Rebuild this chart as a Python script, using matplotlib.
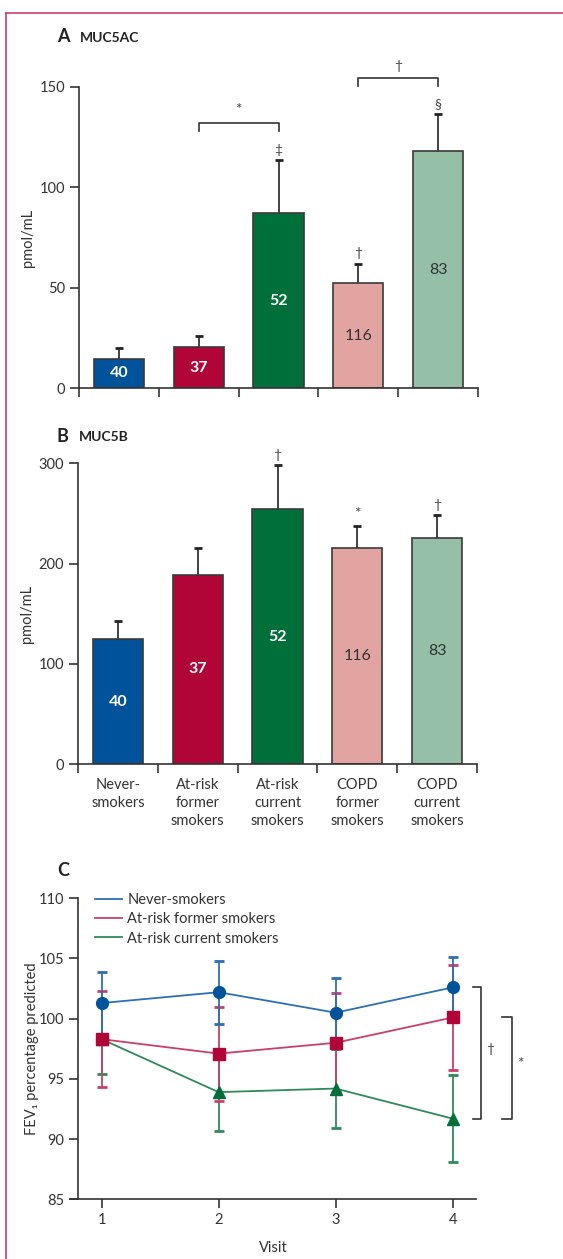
import numpy as np
import matplotlib
matplotlib.use("Agg")
from matplotlib import pyplot as plt
from matplotlib.lines import Line2D
import matplotlib.transforms as mtransforms

plt.rcParams['font.family'] = ['Lato', 'DejaVu Sans']
plt.rcParams['font.size'] = 10.5

# ---- data ----
groups = ["Never-\nsmokers", "At-risk\nformer\nsmokers", "At-risk\ncurrent\nsmokers",
          "COPD\nformer\nsmokers", "COPD\ncurrent\nsmokers"]
n_subjects = ["40", "37", "52", "116", "83"]
bar_colors = ["#00529B", "#B10538", "#006F3A", "#E2A4A1", "#95BFA7"]
n_colors = ["white", "white", "white", "#333333", "#333333"]

muc5ac_mean = [14.6, 20.3, 87.0, 52.3, 118.0]
muc5ac_sem = [5.1, 5.7, 26.5, 9.7, 18.5]
muc5ac_marks = ["", "", "\u2021", "\u2020", "\u00a7"]

muc5b_mean = [125, 189, 254, 216, 226]
muc5b_sem = [18, 27, 44, 22, 22]
muc5b_marks = ["", "", "\u2020", "*", "\u2020"]

visits = [1, 2, 3, 4]
fev_never = [101.3, 102.2, 100.5, 102.6]
fev_never_err = [2.6, 2.6, 2.85, 2.55]
fev_former = [98.3, 97.1, 98.0, 100.1]
fev_former_err = [4.0, 3.9, 4.1, 4.4]
fev_current = [98.3, 93.9, 94.2, 91.7]
fev_current_err = [2.9, 3.2, 3.3, 3.6]

W, H = 563, 1259
fig = plt.figure(figsize=(W / 100, H / 100), dpi=100)

def px_axes(x0, x1, ytop, ybot):
    return fig.add_axes([x0 / W, 1 - ybot / H, (x1 - x0) / W, (ybot - ytop) / H])

# pink frame
fig.add_artist(Line2D([6 / W, 1], [1 - 13 / H, 1 - 13 / H], color="#C94068", lw=1.2))
fig.add_artist(Line2D([6 / W, 6 / W], [0, 1 - 13 / H], color="#C94068", lw=1.2))

spine_col = "#333333"

def style_bar_axes(ax, ymax, step):
    ax.set_xlim(0, 5)
    ax.set_ylim(0, ymax)
    ax.set_yticks(np.arange(0, ymax + 1, step))
    ax.set_xticks(np.arange(0, 6))
    ax.set_xticklabels([])
    for s in ["top", "right"]:
        ax.spines[s].set_visible(False)
    for s in ["left", "bottom"]:
        ax.spines[s].set_color(spine_col)
        ax.spines[s].set_linewidth(1.2)
    ax.tick_params(axis="both", direction="out", length=6.5, width=1.2, color=spine_col,
                   labelsize=10.5, labelcolor="#333333")
    ax.set_ylabel("pmol/mL", fontsize=10.5, color="#333333", labelpad=3)
    ax.patch.set_alpha(0)

def draw_bars(ax, means, sems, marks, mark_off):
    x = np.arange(5) + 0.5
    ax.errorbar(x, means, yerr=sems, fmt="none", ecolor="#222222", elinewidth=1.2,
                capsize=3, capthick=2, zorder=1)
    ax.bar(x, means, width=0.63, color=bar_colors, edgecolor="#3a3a3a", linewidth=1.2, zorder=2)
    for i in range(5):
        ax.text(x[i], means[i] / 2, n_subjects[i], ha="center", va="center",
                color=n_colors[i], fontsize=11.5,
                fontweight="bold" if i < 3 else "normal", zorder=3)
        if marks[i]:
            ax.annotate(marks[i], (x[i], means[i] + sems[i]), xytext=(0, mark_off),
                        textcoords="offset points", ha="center", va="bottom",
                        fontsize=11 if marks[i] == "*" else 10, color="#444444",
                        annotation_clip=False)

# ---- Panel A ----
axA = px_axes(79, 478, 87, 388)
style_bar_axes(axA, 150, 50)
draw_bars(axA, muc5ac_mean, muc5ac_sem, muc5ac_marks, 3)
# brackets
for (xa, xb, yb, lab) in [(1.5, 2.5, 132, "*"), (3.5, 4.5, 154.5, "\u2020")]:
    axA.plot([xa, xa, xb, xb], [yb - 4, yb, yb, yb - 4], color="#333333", lw=1.2,
             clip_on=False)
    axA.text((xa + xb) / 2, yb + 3, lab, ha="center", va="bottom",
             fontsize=11 if lab == "*" else 10, color="#444444", clip_on=False)
fig.text(57 / W, 1 - 37 / H, "A", fontsize=13, fontweight="bold", va="center", color="#222222")
fig.text(80 / W, 1 - 38 / H, "MUC5AC", fontsize=10, fontweight="bold", va="center", color="#222222")

# ---- Panel B ----
axB = px_axes(78, 477, 463.3, 764.3)
style_bar_axes(axB, 300, 100)
draw_bars(axB, muc5b_mean, muc5b_sem, muc5b_marks, 3)
for i, g in enumerate(groups):
    axB.text(i + 0.5, -14, g, ha="center", va="top", fontsize=10.5, color="#333333",
             linespacing=1.35)
fig.text(57 / W, 1 - 436 / H, "B", fontsize=13, fontweight="bold", va="center", color="#222222")
fig.text(79 / W, 1 - 437 / H, "MUC5B", fontsize=10, fontweight="bold", va="center", color="#222222")

# ---- Panel C ----
axC = px_axes(70, 476, 898.3, 1199.3)
axC.set_xlim(0.73, 4.2)
axC.set_ylim(85, 110)
axC.set_xticks(visits)
axC.set_yticks(np.arange(85, 111, 5))
axC.spines["left"].set_position(("data", 0.8))
for s in ["top", "right"]:
    axC.spines[s].set_visible(False)
for s in ["left", "bottom"]:
    axC.spines[s].set_color(spine_col)
    axC.spines[s].set_linewidth(1.2)
axC.tick_params(axis="both", direction="out", length=6.5, width=1.2, color=spine_col,
                labelsize=10.5, labelcolor="#333333")
axC.set_xlabel("Visit", fontsize=10.5, color="#333333", labelpad=10)
axC.set_ylabel("FEV\u2081 percentage predicted", fontsize=10.5, color="#333333", labelpad=0)
axC.patch.set_alpha(0)

series = [
    ("At-risk current smokers", fev_current, fev_current_err, "#2E8B57", "#006F3A", "^", 8),
    ("At-risk former smokers", fev_former, fev_former_err, "#C8406A", "#B10538", "s", 8.5),
    ("Never-smokers", fev_never, fev_never_err, "#2C6FB7", "#00529B", "o", 8.5),
]
handles = {}
for name, vals, errs, light, dark, mk, ms in series:
    eb = axC.errorbar(visits, vals, yerr=errs, fmt="-", color=light, lw=1.3,
                      ecolor=light, elinewidth=1.3, capsize=3.5, capthick=2,
                      marker=mk, markersize=ms, markerfacecolor=dark, markeredgecolor=dark)
    for c in eb[1]:
        c.set_color(dark)
    handles[name] = Line2D([], [], color=light, lw=1.3)

order = ["Never-smokers", "At-risk former smokers", "At-risk current smokers"]
axC.legend([handles[k] for k in order], order, loc="upper left", bbox_to_anchor=(0.03, 1.06),
           frameon=False, fontsize=10.5, handlelength=1.8, handletextpad=0.4,
           labelspacing=0.35, labelcolor="#333333")

# significance brackets at right
trans = mtransforms.blended_transform_factory(axC.transAxes, axC.transData)
for (xa, xb, ytop, ybot, lab, xl) in [(0.9926, 1.0123, fev_never[-1], fev_current[-1], "\u2020", 1.034),
                                      (1.064, 1.0887, fev_former[-1], fev_current[-1], "*", 1.108)]:
    axC.plot([xa, xb, xb, xa], [ytop, ytop, ybot, ybot], color="#333333", lw=1.2,
             transform=trans, clip_on=False)
    axC.text(xl, (ytop + ybot) / 2 + 0.3, lab, transform=trans, ha="center", va="center",
             fontsize=11 if lab == "*" else 10, color="#444444")

fig.text(57 / W, 1 - 870 / H, "C", fontsize=13, fontweight="bold", va="center", color="#222222")

fig.savefig("out.png", dpi=100)
